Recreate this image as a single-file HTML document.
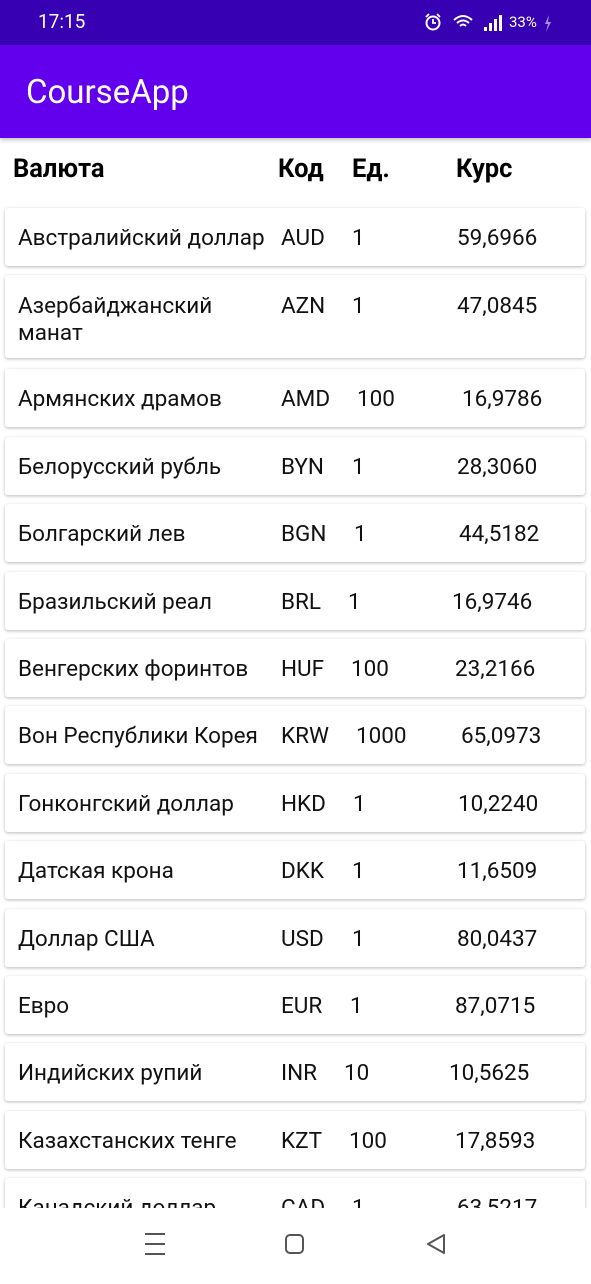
<!DOCTYPE html>
<html><head><meta charset="utf-8"><style>
*{margin:0;padding:0;box-sizing:border-box}
body{width:591px;height:1280px;overflow:hidden;background:#fff;font-family:"Roboto","Liberation Sans","DejaVu Sans",sans-serif;position:relative}
#status{position:absolute;left:0;top:0;width:591px;height:45px;background:#3700b3;color:#fff}
#appbar{position:absolute;left:0;top:45px;width:591px;height:93px;background:#6200ee;box-shadow:0 2px 4px rgba(0,0,0,.25)}
#appbar span{position:absolute;left:26px;top:28px;font-size:33px;color:#fff}
.h{position:absolute;top:154px;font-size:25.5px;font-weight:bold;color:#000}
#list{position:absolute;left:0;top:138px;width:591px;height:1070px;overflow:hidden}
.card{position:absolute;left:5px;width:580px;background:#fff;border-radius:3px;box-shadow:0 1px 3px rgba(0,0,0,.28)}
.t{position:absolute;font-size:22.5px;color:#111;line-height:27px;white-space:nowrap}
#nav{position:absolute;left:0;top:1208px;width:591px;height:72px;background:#fff}
</style></head><body>
<div id="status">
<span style="position:absolute;left:38px;top:10px;font-size:19px">17:15</span>
<svg style="position:absolute;left:424px;top:13px" width="20" height="20"><circle cx="9" cy="10" r="6.5" stroke="#fff" stroke-width="2" fill="none"/><path d="M9 6 V10 H12 M2 4 L5 1 M16 4 L13 1" stroke="#fff" stroke-width="1.8" fill="none"/></svg>
<svg style="position:absolute;left:452px;top:13px" width="56" height="20">
<path d="M2 7 Q11 -1 20 7 M5 10 Q11 5 17 10 M8 13 Q11 10 14 13" stroke="#fff" stroke-width="2" fill="none"/>
<rect x="32" y="14" width="3" height="4" fill="#fff"/><rect x="37" y="10" width="3" height="8" fill="#fff"/><rect x="42" y="6" width="3" height="12" fill="#fff"/><rect x="47" y="2" width="3" height="16" fill="#fff"/></svg>
<span style="position:absolute;left:509px;top:13px;font-size:15px">33%</span>
<svg style="position:absolute;left:543px;top:15px" width="10" height="18"><path d="M6 0 L2 9 H5 L3 17 L8 7 H5 Z" fill="#a98ee0"/></svg>
</div>
<div id="appbar"><span>CourseApp</span></div>
<div class="h" style="left:13px">Валюта</div>
<div class="h" style="left:278px">Код</div>
<div class="h" style="left:352px">Ед.</div>
<div class="h" style="left:456px">Курс</div>
<div id="list"></div>
<div id="nav">
<svg width="591" height="72">
<g stroke="#555" stroke-width="2"><line x1="145" y1="26" x2="165" y2="26"/><line x1="145" y1="36" x2="165" y2="36"/><line x1="145" y1="46" x2="165" y2="46"/></g>
<rect x="286" y="27" width="17" height="18" rx="4" fill="none" stroke="#555" stroke-width="2"/>
<path d="M444 27 L428 36 L444 45 Z" fill="none" stroke="#555" stroke-width="2" stroke-linejoin="round"/>
</svg></div>
<script>
const names=["Австралийский доллар","Азербайджанский\nманат","Армянских драмов","Белорусский рубль","Болгарский лев","Бразильский реал","Венгерских форинтов","Вон Республики Корея","Гонконгский доллар","Датская крона","Доллар США","Евро","Индийских рупий","Казахстанских тенге","Канадский доллар"];
const codes=["AUD","AZN","AMD","BYN","BGN","BRL","HUF","KRW","HKD","DKK","USD","EUR","INR","KZT","CAD"];
const units=["1","1","100","1","1","1","100","1000","1","1","1","1","10","100","1"];
const rates=["59,6966","47,0845","16,9786","28,3060","44,5182","16,9746","23,2166","65,0973","10,2240","11,6509","80,0437","87,0715","10,5625","17,8593","63,5217"];
const ux=[352,352,357,352,354,348,351,356,353,352,352,350,344,349,352];
const rx=[457,457,462,457,459,452,455,461,458,457,457,455,449,455,457];
const list=document.getElementById('list');
let y=70;
for(let i=0;i<names.length;i++){
 const two=names[i].includes('\n');
 const h=two?83:58;
 const c=document.createElement('div');
 c.className='card';
 
 
 c.style.top=y+'px';c.style.height=h+'px';
 const top=two?18:17;
 const mk=(txt,x,nm)=>{const s=document.createElement('div');s.className='t';s.style.left=(x-5)+'px';s.style.top=top+'px';s.innerHTML=txt.replace('\n','<br>');
  
  
  c.appendChild(s);};
 mk(names[i],18,'currency-name');mk(codes[i],281,'currency-code');mk(units[i],ux[i],'currency-unit');mk(rates[i],rx[i],'currency-rate');
 list.appendChild(c);
 y+=h+(two?11:9.4);
}
</script>
</body></html>
